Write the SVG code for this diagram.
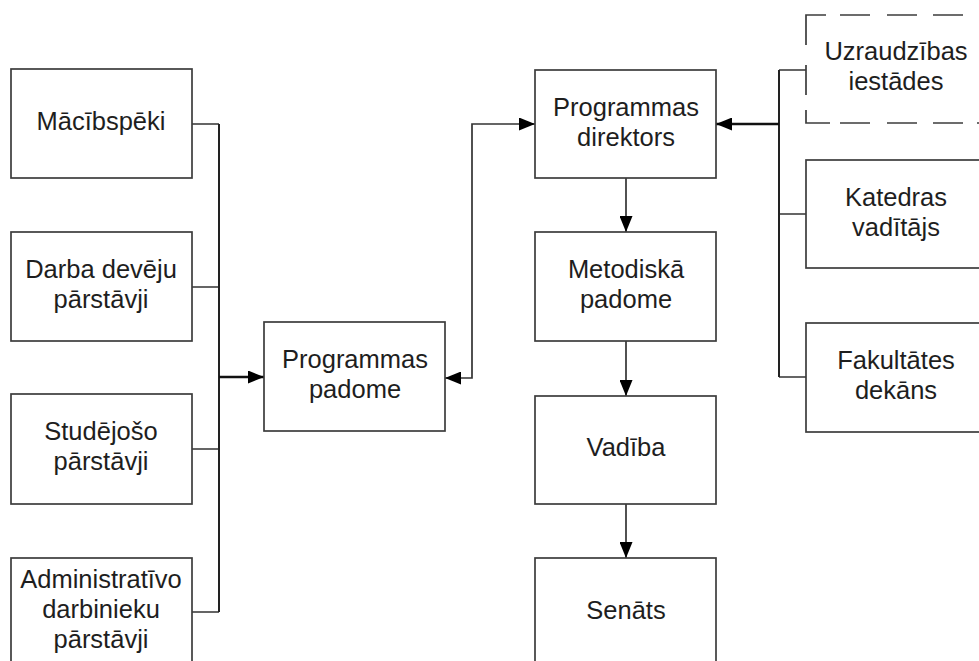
<svg xmlns="http://www.w3.org/2000/svg" width="979" height="661" viewBox="0 0 979 661">
<style>
.box{fill:#fff;stroke:#3c3c3c;stroke-width:1.7}
.dash{fill:none;stroke:#3c3c3c;stroke-width:1.7}
.t{font-family:"Liberation Sans",Arial,sans-serif;font-size:25.5px;fill:#1e1e1e;text-anchor:middle}
.c{fill:none;stroke:#333;stroke-width:1.7}
.bus{fill:none;stroke:#222;stroke-width:2}
.a{fill:none;stroke:#111;stroke-width:2.4}
</style>
<defs>
<marker id="ah" markerUnits="userSpaceOnUse" markerWidth="16" markerHeight="13" refX="16" refY="6.5" orient="auto">
<path d="M0,0 L16,6.5 L0,13 Z" fill="#000"/>
</marker>
<marker id="ahs" markerUnits="userSpaceOnUse" markerWidth="16" markerHeight="13" refX="0" refY="6.5" orient="auto">
<path d="M16,0 L0,6.5 L16,13 Z" fill="#000"/>
</marker>
</defs>
<rect width="979" height="661" fill="#fff"/>
<g id="connectors">
<path class="c" d="M192,124 H219 M192,287 H219 M192,449 H219 M192,612 H219"/>
<path class="bus" d="M219,124 V612"/>
<path class="a" d="M219,377 H264" marker-end="url(#ah)"/>
<path class="c" d="M445,378 H472 V124 H535" marker-start="url(#ahs)" marker-end="url(#ah)"/>
<path class="c" d="M626,178 V232" marker-end="url(#ah)"/>
<path class="c" d="M626,341 V396" marker-end="url(#ah)"/>
<path class="c" d="M626,504 V558" marker-end="url(#ah)"/>
<path class="c" d="M806,70 H779 M806,214 H779 M806,377 H779"/>
<path class="bus" d="M779,70 V377"/>
<path class="a" d="M779,124 H716" marker-end="url(#ah)"/>
</g>
<g id="macibspeki">
<rect class="box" x="11" y="69" width="181" height="109"/>
<text class="t" x="101" y="130">Mācībspēki</text>
</g>
<g id="darba-deveju">
<rect class="box" x="11" y="232" width="181" height="109"/>
<text class="t" x="101" y="278">Darba devēju</text>
<text class="t" x="101" y="308">pārstāvji</text>
</g>
<g id="studejoso">
<rect class="box" x="11" y="394" width="181" height="110"/>
<text class="t" x="101" y="440">Studējošo</text>
<text class="t" x="101" y="470">pārstāvji</text>
</g>
<g id="administrativo">
<rect class="box" x="11" y="558" width="181" height="109"/>
<text class="t" x="101" y="588">Administratīvo</text>
<text class="t" x="101" y="618">darbinieku</text>
<text class="t" x="101" y="648">pārstāvji</text>
</g>
<g id="programmas-padome">
<rect class="box" x="264" y="322" width="181" height="109"/>
<text class="t" x="355" y="368">Programmas</text>
<text class="t" x="355" y="398">padome</text>
</g>
<g id="programmas-direktors">
<rect class="box" x="535" y="70" width="181" height="108"/>
<text class="t" x="626" y="116">Programmas</text>
<text class="t" x="626" y="146">direktors</text>
</g>
<g id="metodiska-padome">
<rect class="box" x="535" y="232" width="181" height="109"/>
<text class="t" x="626" y="278">Metodiskā</text>
<text class="t" x="626" y="308">padome</text>
</g>
<g id="vadiba">
<rect class="box" x="535" y="396" width="181" height="108"/>
<text class="t" x="626" y="456">Vadība</text>
</g>
<g id="senats">
<rect class="box" x="535" y="558" width="181" height="109"/>
<text class="t" x="626" y="619">Senāts</text>
</g>
<g id="uzraudzibas-iestades">
<path class="dash" d="M806,45 V15 H826 M840,15 H870 M887,15 H917 M933,15 H963 M806,65 V95 M806,110 V123 H830 M840,123 H870 M887,123 H917 M933,123 H963 M977,123 H985"/>
<text class="t" x="896" y="60">Uzraudzības</text>
<text class="t" x="896" y="90">iestādes</text>
</g>
<g id="katedras-vaditajs">
<rect class="box" x="806" y="160" width="181" height="108"/>
<text class="t" x="896" y="206">Katedras</text>
<text class="t" x="896" y="236">vadītājs</text>
</g>
<g id="fakultates-dekans">
<rect class="box" x="806" y="323" width="181" height="109"/>
<text class="t" x="896" y="369">Fakultātes</text>
<text class="t" x="896" y="399">dekāns</text>
</g>
</svg>
